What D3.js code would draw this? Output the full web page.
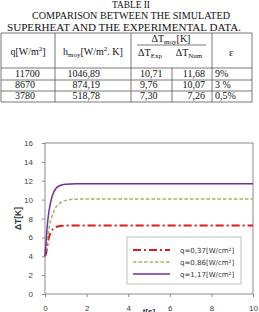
<!DOCTYPE html>
<html>
<head>
<meta charset="utf-8">
<script src="https://cdn.jsdelivr.net/npm/d3@7"></script>
<style>
body { margin: 0; background: #fff; }
svg { display: block; }
</style>
</head>
<body>
<script>
// table data
var qRows = ["11700", "8670", "3780"];
var hRows = ["1046,89", "874,19", "518,78"];
var dtExp = ["10,71", "9,76", "7,30"];
var dtNum = ["11,68", "10,07", "7,26"];
var epsRows = ["9%", "3 %", "0,5%"];

// curves
var times = [0, 0.05, 0.1, 0.15, 0.2, 0.3, 0.4, 0.5, 0.6, 0.8, 1.0, 1.5, 2, 4, 6, 8, 10];
var redVals = [4.0, 4.3, 4.9, 5.6, 6.1, 6.6, 6.9, 7.05, 7.15, 7.22, 7.25, 7.26, 7.26, 7.26, 7.26, 7.26, 7.26];
var greenVals = [4.0, 4.8, 5.6, 6.4, 7.1, 8.0, 8.6, 9.1, 9.4, 9.75, 9.92, 10.05, 10.07, 10.07, 10.07, 10.07, 10.07];
var purpleVals = [4.0, 5.5, 7.0, 8.1, 8.9, 10.0, 10.7, 11.1, 11.35, 11.55, 11.63, 11.68, 11.68, 11.68, 11.68, 11.68, 11.68];
var legendLabels = ["q=0,37[W/cm²]", "q=0,86[W/cm²]", "q=1,17[W/cm²]"];
var xTicks = [0, 2, 4, 6, 8, 10];
var yTicks = [0, 2, 4, 6, 8, 10, 12, 14, 16];

var width = 259, height = 312;
var svg = d3.select("body").append("svg")
    .attr("width", width)
    .attr("height", height);

// ---- table ----
var serif = "'Liberation Serif', 'Times New Roman', serif";
var title = svg.append("g").attr("font-family", serif).attr("fill", "#111");
title.append("text").attr("x", 112).attr("y", 7.5).attr("font-size", 9.5)
    .attr("textLength", 38).attr("lengthAdjust", "spacingAndGlyphs").text("TABLE II");
title.append("text").attr("x", 32).attr("y", 19).attr("font-size", 10.5)
    .attr("textLength", 198).attr("lengthAdjust", "spacingAndGlyphs").text("COMPARISON BETWEEN THE SIMULATED");
title.append("text").attr("x", 7).attr("y", 30.5).attr("font-size", 10.5)
    .attr("textLength", 234).attr("lengthAdjust", "spacingAndGlyphs").text("SUPERHEAT AND THE EXPERIMENTAL DATA.");

var tbl = svg.append("g").attr("font-family", serif).attr("font-size", 10).attr("fill", "#111");
var colX = [1, 55, 131, 212, 252];
var rowY = [33, 68, 80, 91, 102];
var lineCol = "#555";
colX.forEach(function (x) {
    tbl.append("line").attr("x1", x).attr("x2", x).attr("y1", rowY[0]).attr("y2", rowY[4])
        .attr("stroke", lineCol).attr("stroke-width", 0.8);
});
rowY.forEach(function (y) {
    tbl.append("line").attr("x1", colX[0]).attr("x2", colX[4]).attr("y1", y).attr("y2", y)
        .attr("stroke", lineCol).attr("stroke-width", 0.8);
});
tbl.append("line").attr("x1", 172).attr("x2", 172).attr("y1", rowY[1]).attr("y2", rowY[4])
    .attr("stroke", lineCol).attr("stroke-width", 0.8);
tbl.append("line").attr("x1", 137).attr("x2", 206).attr("y1", 45).attr("y2", 45)
    .attr("stroke", lineCol).attr("stroke-width", 0.8);

// header
var h1 = tbl.append("text").attr("x", 28).attr("y", 55).attr("text-anchor", "middle");
h1.append("tspan").text("q[W/m");
h1.append("tspan").attr("font-size", 7).attr("dy", -4).text("2");
h1.append("tspan").attr("dy", 4).text("]");
var h2 = tbl.append("text").attr("x", 93).attr("y", 55).attr("text-anchor", "middle");
h2.append("tspan").text("h");
h2.append("tspan").attr("font-size", 7).attr("dy", 2).text("moy");
h2.append("tspan").attr("dy", -2).text("[W/m");
h2.append("tspan").attr("font-size", 7).attr("dy", -4).text("2");
h2.append("tspan").attr("dy", 4).text(". K]");
var h3 = tbl.append("text").attr("x", 171).attr("y", 42).attr("text-anchor", "middle");
h3.append("tspan").text("ΔT");
h3.append("tspan").attr("font-size", 7).attr("dy", 2).text("moy");
h3.append("tspan").attr("dy", -2).text("[K]");
var h4 = tbl.append("text").attr("x", 150).attr("y", 56).attr("text-anchor", "middle");
h4.append("tspan").text("ΔT");
h4.append("tspan").attr("font-size", 7).attr("dy", 2).text("Exp");
var h5 = tbl.append("text").attr("x", 189).attr("y", 56).attr("text-anchor", "middle");
h5.append("tspan").text("ΔT");
h5.append("tspan").attr("font-size", 7).attr("dy", 2).text("Num");
tbl.append("text").attr("x", 231).attr("y", 56).attr("text-anchor", "middle").text("ε");

// data rows
var baseY = [77, 88, 99];
qRows.forEach(function (d, i) {
    tbl.append("text").attr("x", 15).attr("y", baseY[i]).text(d);
    tbl.append("text").attr("x", 100).attr("y", baseY[i]).attr("text-anchor", "end").text(hRows[i]);
    tbl.append("text").attr("x", 140).attr("y", baseY[i]).text(dtExp[i]);
    tbl.append("text").attr("x", 205).attr("y", baseY[i]).attr("text-anchor", "end").text(dtNum[i]);
    tbl.append("text").attr("x", 215).attr("y", baseY[i]).text(epsRows[i]);
});

// ---- chart ----
var plot = { left: 45, right: 253, top: 143, bottom: 294 };
var x = d3.scaleLinear().domain([0, 10]).range([plot.left, plot.right]);
var y = d3.scaleLinear().domain([0, 16]).range([plot.bottom, plot.top]);
var sans = "'Liberation Sans', Arial, sans-serif";
var gray = "#8c8c8c";

svg.append("rect")
    .attr("x", plot.left).attr("y", plot.top)
    .attr("width", plot.right - plot.left).attr("height", plot.bottom - plot.top)
    .attr("fill", "none").attr("stroke", gray).attr("stroke-width", 1);

var yAxisG = svg.append("g")
    .attr("transform", "translate(" + plot.left + ",0)")
    .call(d3.axisLeft(y).tickValues(yTicks).tickSize(3).tickPadding(9));
var xAxisG = svg.append("g")
    .attr("transform", "translate(0," + plot.bottom + ")")
    .call(d3.axisBottom(x).tickValues(xTicks).tickSize(3).tickPadding(8));
[yAxisG, xAxisG].forEach(function (g) {
    g.select(".domain").remove();
    g.selectAll("line").attr("stroke", gray);
    g.selectAll("text").attr("font-family", sans).attr("font-size", 8).attr("fill", "#404040");
});

svg.append("text")
    .attr("transform", "translate(21," + ((plot.top + plot.bottom) / 2) + ") rotate(-90)")
    .attr("text-anchor", "middle")
    .attr("font-family", sans).attr("font-size", 8.5).attr("font-weight", "bold").attr("fill", "#333")
    .text("ΔT[K]");
svg.append("text")
    .attr("x", 149).attr("y", 314)
    .attr("text-anchor", "middle")
    .attr("font-family", sans).attr("font-size", 8).attr("font-weight", "bold").attr("fill", "#333")
    .text("t[s]");

var series = [
    { vals: redVals, color: "#e31a1c", width: 2, dash: "8,3,2,3" },
    { vals: greenVals, color: "#9bbb59", width: 1.5, dash: "3.5,2" },
    { vals: purpleVals, color: "#7030a0", width: 1.5, dash: null }
];
var line = d3.line()
    .x(function (d) { return x(d[0]); })
    .y(function (d) { return y(d[1]); })
    .curve(d3.curveMonotoneX);

series.forEach(function (s) {
    svg.append("path")
        .datum(times.map(function (t, i) { return [t, s.vals[i]]; }))
        .attr("d", line)
        .attr("fill", "none")
        .attr("stroke", s.color)
        .attr("stroke-width", s.width)
        .attr("stroke-dasharray", s.dash);
});

// legend
var leg = svg.append("g");
leg.append("rect").attr("x", 127).attr("y", 237).attr("width", 114).attr("height", 47)
    .attr("fill", "#fff").attr("stroke", "#b0b0b0").attr("stroke-width", 0.8);
var legY = [250, 262, 274];
series.forEach(function (s, i) {
    leg.append("line").attr("x1", 133).attr("x2", 170).attr("y1", legY[i]).attr("y2", legY[i])
        .attr("stroke", s.color).attr("stroke-width", s.width).attr("stroke-dasharray", s.dash);
    leg.append("text").attr("x", 180).attr("y", legY[i] + 2.5)
        .attr("font-family", "'DejaVu Sans', sans-serif").attr("font-size", 7).attr("fill", "#333")
        .text(legendLabels[i]);
});
</script>
</body>
</html>
